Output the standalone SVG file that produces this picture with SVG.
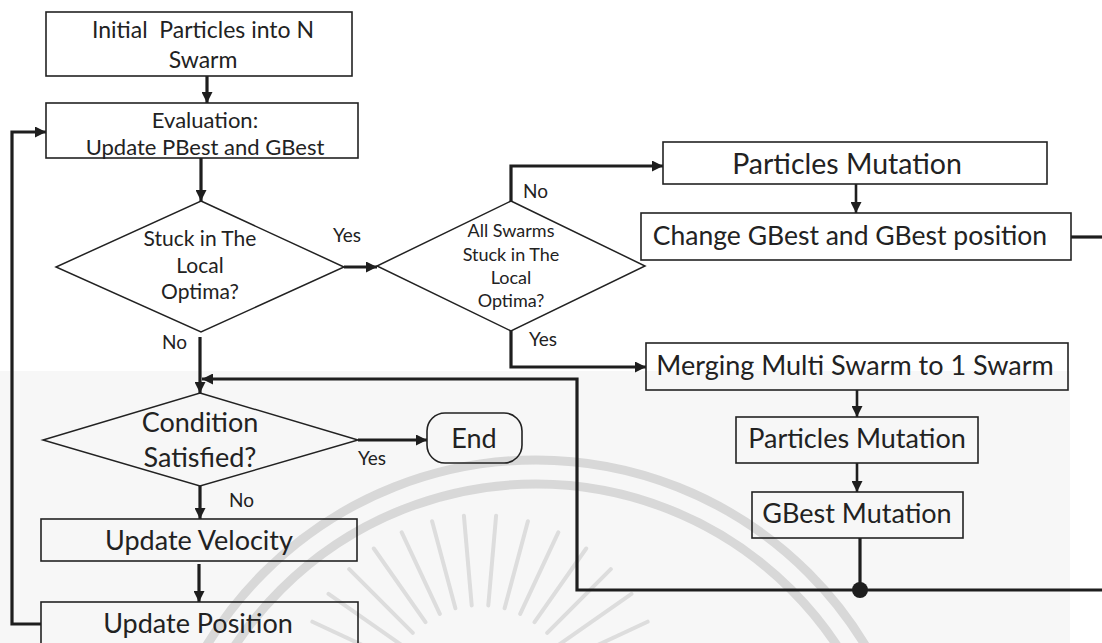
<svg xmlns="http://www.w3.org/2000/svg" width="1102" height="643" viewBox="0 0 1102 643">
  <defs>
    <style>
      .box { fill: none; stroke: #222; stroke-width: 1.6; }
      .dia { fill: none; stroke: #222; stroke-width: 1.5; }
      .conn { fill: none; stroke: #1e1e1e; stroke-width: 3.2; }
      .thin { stroke-width: 2.6; }
      .t { font-family: Lato, "Open Sans", "Liberation Sans", sans-serif; fill: #222; text-anchor: middle; }
      .lbl { font-family: Lato, "Open Sans", "Liberation Sans", sans-serif; fill: #222; font-size: 19px; }
      .wm { fill: none; stroke: #d8d8d8; stroke-width: 9; }
      .ray { fill: none; stroke: #dddddd; stroke-width: 4; stroke-linecap: round; }
    </style>
    <marker id="ah" viewBox="0 0 10 10" refX="10" refY="5" markerWidth="12" markerHeight="11" markerUnits="userSpaceOnUse" orient="auto">
      <path d="M0,0 L10,5 L0,10 z" fill="#1e1e1e"/>
    </marker>
  </defs>

  <!-- page background and faint emblem -->
  <rect x="0" y="0" width="1102" height="643" fill="#ffffff"/>
  <rect x="0" y="371" width="1070" height="272" fill="#f7f7f7"/>
  <g id="emblem">
    <circle class="wm" cx="536" cy="845" r="385"/>
    <circle class="wm" cx="536" cy="845" r="361"/>
    <path class="ray" d="M393.9,659.8 L312.4,621.7 M402.2,645.5 L328.5,593.8 M412.8,632.8 L349.2,569.2 M425.5,622.2 L373.8,548.5 M439.8,613.9 L401.7,532.4 M455.4,608.2 L432.1,521.3 M471.7,605.4 L463.9,515.7 M488.3,605.4 L496.1,515.7 M504.6,608.2 L527.9,521.3 M520.2,613.9 L558.3,532.4 M534.5,622.2 L586.2,548.5 M547.2,632.8 L610.8,569.2 M557.8,645.5 L631.5,593.8 M566.1,659.8 L647.6,621.7"/>
  </g>

  <!-- connectors -->
  <g id="connectors">
    <path class="conn" d="M207,76 V103" marker-end="url(#ah)"/>
    <path class="conn" d="M201,158 V201" marker-end="url(#ah)"/>
    <path class="conn" d="M344,267 H377" marker-end="url(#ah)"/>
    <path class="conn" d="M511,201 V166 H663" marker-end="url(#ah)"/>
    <path class="conn thin" d="M856,184 V213" marker-end="url(#ah)"/>
    <path class="conn" d="M1071,237 H1102"/>
    <path class="conn" d="M511,331 V367 H646" marker-end="url(#ah)"/>
    <path class="conn thin" d="M857,390 V417" marker-end="url(#ah)"/>
    <path class="conn thin" d="M857,463 V492" marker-end="url(#ah)"/>
    <path class="conn" d="M860,538 V590"/>
    <circle cx="860" cy="590" r="8" fill="#1e1e1e"/>
    <path class="conn" d="M1102,590 H577 V379 H202" marker-end="url(#ah)"/>
    <path class="conn" d="M200,337 V393" marker-end="url(#ah)"/>
    <path class="conn" d="M358,440 H427" marker-end="url(#ah)"/>
    <path class="conn" d="M200,486 V519" marker-end="url(#ah)"/>
    <path class="conn" d="M199,564 V602" marker-end="url(#ah)"/>
    <path class="conn" d="M41,624 H12 V132 H46" marker-end="url(#ah)"/>
    <!-- branch labels -->
    <text class="lbl" x="333" y="242">Yes</text>
    <text class="lbl" x="162" y="349">No</text>
    <text class="lbl" x="523" y="198">No</text>
    <text class="lbl" x="529" y="346">Yes</text>
    <text class="lbl" x="358" y="465">Yes</text>
    <text class="lbl" x="229" y="507">No</text>
  </g>

  <g id="init">
    <rect class="box" x="46" y="12" width="306" height="64"/>
    <text class="t" x="203" y="38" font-size="23" style="white-space:pre">Initial  Particles into N</text>
    <text class="t" x="203" y="68" font-size="23">Swarm</text>
  </g>

  <g id="evaluation">
    <rect class="box" x="46" y="103" width="312" height="55"/>
    <text class="t" x="205" y="128" font-size="22">Evaluation:</text>
    <text class="t" x="205" y="155" font-size="22">Update PBest and GBest</text>
  </g>

  <g id="stuck-local">
    <polygon class="dia" points="201,201 344,267 201,332 56,267"/>
    <text class="t" x="200" y="246" font-size="21">Stuck in The</text>
    <text class="t" x="200" y="273" font-size="21">Local</text>
    <text class="t" x="200" y="299" font-size="21">Optima?</text>
  </g>

  <g id="all-stuck">
    <polygon class="dia" points="511,201 645,266 511,331 377,266"/>
    <text class="t" x="511" y="237" font-size="18">All Swarms</text>
    <text class="t" x="511" y="261" font-size="18">Stuck in The</text>
    <text class="t" x="511" y="284" font-size="18">Local</text>
    <text class="t" x="511" y="307" font-size="18">Optima?</text>
  </g>

  <g id="particles-mutation-a">
    <rect class="box" x="663" y="142" width="384" height="42"/>
    <text class="t" x="847" y="174" font-size="28.5">Particles Mutation</text>
  </g>

  <g id="change-gbest">
    <rect class="box" x="641" y="213" width="430" height="47"/>
    <text class="t" x="850" y="245" font-size="26.5">Change GBest and GBest position</text>
  </g>

  <g id="merging">
    <rect class="box" x="646" y="343" width="422" height="47"/>
    <text class="t" x="855" y="375" font-size="27">Merging Multi Swarm to 1 Swarm</text>
  </g>

  <g id="particles-mutation-b">
    <rect class="box" x="736" y="417" width="242" height="46"/>
    <text class="t" x="857" y="448" font-size="27">Particles Mutation</text>
  </g>

  <g id="gbest-mutation">
    <rect class="box" x="752" y="492" width="211" height="46"/>
    <text class="t" x="857" y="523" font-size="27">GBest Mutation</text>
  </g>

  <g id="condition">
    <polygon class="dia" points="200,393 358,440 200,486 43,440"/>
    <text class="t" x="200" y="432" font-size="27">Condition</text>
    <text class="t" x="200" y="467" font-size="27">Satisfied?</text>
  </g>

  <g id="end">
    <rect class="box" x="427" y="413" width="95" height="50" rx="18" ry="18"/>
    <text class="t" x="474" y="448" font-size="27">End</text>
  </g>

  <g id="update-velocity">
    <rect class="box" x="41" y="519" width="316" height="42"/>
    <text class="t" x="199" y="550" font-size="27">Update Velocity</text>
  </g>

  <g id="update-position">
    <rect class="box" x="41" y="602" width="317" height="60"/>
    <text class="t" x="198" y="633" font-size="27">Update Position</text>
  </g>
</svg>
